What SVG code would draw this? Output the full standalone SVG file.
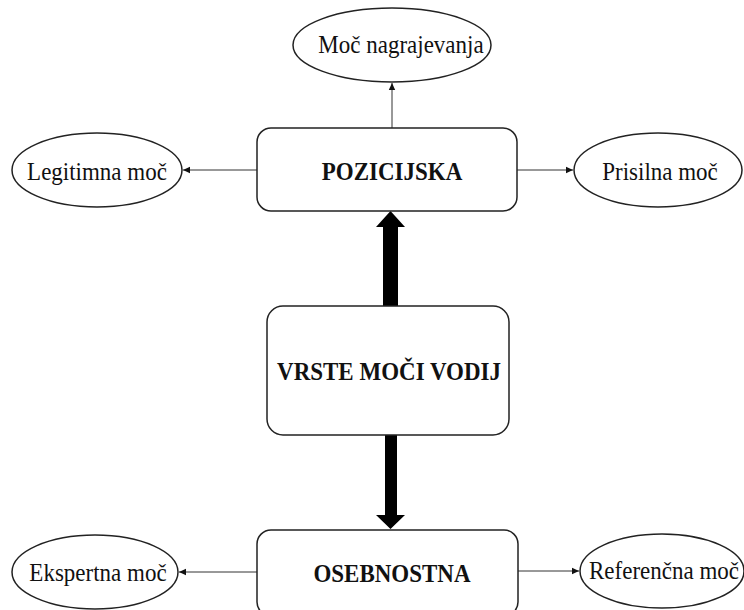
<svg xmlns="http://www.w3.org/2000/svg" width="744" height="610" viewBox="0 0 744 610">
<style>
.box{fill:#fff;stroke:#222;stroke-width:1.5}
.ell{fill:#fff;stroke:#222;stroke-width:1.5}
.lbl{font-family:"Liberation Serif","Times New Roman",serif;font-size:23px;fill:#111;text-anchor:middle}
.bold{font-weight:bold;font-size:23px}
.con{stroke:#333;stroke-width:1;fill:none;marker-end:url(#ah)}
.thick{fill:#000}
</style>
<defs>
<marker id="ah" markerWidth="8" markerHeight="8" refX="7" refY="4" orient="auto" markerUnits="userSpaceOnUse">
<path d="M0,0.8 L7,4 L0,7.2 Z" fill="#111"/>
</marker>
</defs>
<rect width="744" height="610" fill="#fff"/>
<g id="connectors">
<line class="con" x1="392" y1="128" x2="392" y2="83"/>
<line class="con" x1="257" y1="170" x2="183" y2="170"/>
<line class="con" x1="517" y1="170" x2="573" y2="170"/>
<line class="con" x1="257" y1="572" x2="179" y2="572"/>
<line class="con" x1="518" y1="571" x2="579" y2="571"/>
<polygon class="thick" points="383,306 398,306 398,227 405,227 390.5,211 376,227 383,227"/>
<polygon class="thick" points="385,435 397,435 397,515 405,515 390.5,529 376,515 385,515"/>
</g>
<g id="node-nagrajevanja">
<ellipse class="ell" cx="392" cy="45" rx="99" ry="37"/>
<text class="lbl" transform="translate(401,53) scale(1,1.12)">Moč nagrajevanja</text>
</g>
<g id="node-legitimna">
<ellipse class="ell" cx="97" cy="170" rx="85" ry="37"/>
<text class="lbl" transform="translate(97,180) scale(1,1.12)">Legitimna moč</text>
</g>
<g id="node-prisilna">
<ellipse class="ell" cx="658" cy="170" rx="84" ry="37"/>
<text class="lbl" transform="translate(660,180) scale(1,1.12)">Prisilna moč</text>
</g>
<g id="node-pozicijska">
<rect class="box" x="257" y="128" width="260" height="83" rx="14"/>
<text class="lbl bold" transform="translate(392,180) scale(1,1.12)">POZICIJSKA</text>
</g>
<g id="node-vrste">
<rect class="box" x="267" y="306" width="242" height="129" rx="16"/>
<text class="lbl bold" transform="translate(389,380) scale(1,1.12)">VRSTE MOČI VODIJ</text>
</g>
<g id="node-osebnostna">
<rect class="box" x="257" y="530" width="261" height="86" rx="14"/>
<text class="lbl bold" transform="translate(392,582) scale(1,1.12)">OSEBNOSTNA</text>
</g>
<g id="node-ekspertna">
<ellipse class="ell" cx="95" cy="572" rx="83" ry="37"/>
<text class="lbl" transform="translate(98,581) scale(1,1.12)">Ekspertna moč</text>
</g>
<g id="node-referencna">
<ellipse class="ell" cx="662" cy="571" rx="82" ry="37"/>
<text class="lbl" transform="translate(664,579) scale(1,1.12)">Referenčna moč</text>
</g>
</svg>
